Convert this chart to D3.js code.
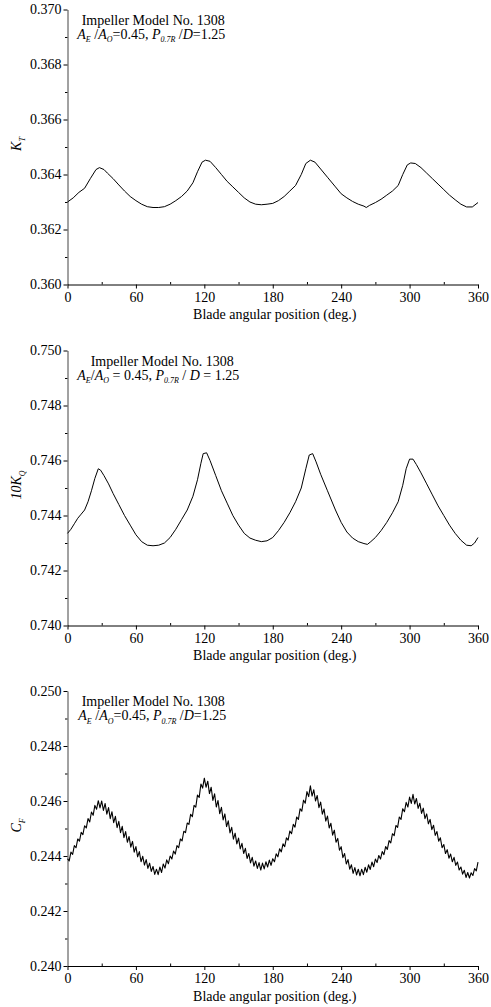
<!DOCTYPE html>
<html>
<head>
<meta charset="utf-8">
<title>Impeller Model No. 1308</title>
<style>
  html, body { margin: 0; padding: 0; background: #fff; }
  svg { display: block; }
  svg text { font-family: "Liberation Serif", "Times New Roman", serif; fill: #000; }
</style>
</head>
<body>
<svg id="chart" width="491" height="1007"></svg>

<script src="https://cdn.jsdelivr.net/npm/d3@7"></script>
<script>

// x axis
const xTicks = [0, 60, 120, 180, 240, 300, 360];
const xMinor = [30, 90, 150, 210, 270, 330];
const xTitle = 'Blade angular position (deg.)';

// K_T
const ktTicks = [0.360, 0.362, 0.364, 0.366, 0.368, 0.370];
const ktMinor = [0.361, 0.363, 0.365, 0.367, 0.369];
const ktAngle = [0, 5, 10, 15, 20, 25, 28, 32, 35, 40, 45, 50, 55, 60, 65, 70, 75, 80, 85, 90,
  95, 100, 105, 110, 114, 118, 121, 125, 130, 135, 140, 145, 150, 155, 160, 165, 170, 175, 180,
  185, 190, 195, 200, 205, 209, 213, 217, 222, 228, 235, 240, 245, 250, 255, 260, 262, 265, 270,
  275, 280, 285, 290, 294, 298, 301, 305, 310, 315, 320, 325, 330, 335, 340, 345, 350, 355, 360];
const ktValue = [0.36300, 0.36315, 0.36335, 0.36350, 0.36385, 0.36418, 0.36425, 0.36418, 0.36405,
  0.36385, 0.36362, 0.36340, 0.36320, 0.36305, 0.36292, 0.36283, 0.36280, 0.36280, 0.36283,
  0.36292, 0.36305, 0.36320, 0.36340, 0.36370, 0.36410, 0.36445, 0.36452, 0.36448, 0.36425,
  0.36400, 0.36375, 0.36355, 0.36335, 0.36315, 0.36300, 0.36292, 0.36290, 0.36292, 0.36295,
  0.36305, 0.36320, 0.36340, 0.36360, 0.36400, 0.36440, 0.36452, 0.36445, 0.36420, 0.36390,
  0.36355, 0.36330, 0.36315, 0.36302, 0.36292, 0.36285, 0.36280, 0.36288, 0.36298, 0.36310,
  0.36325, 0.36340, 0.36360, 0.36400, 0.36435, 0.36442, 0.36440, 0.36425, 0.36405, 0.36385,
  0.36365, 0.36345, 0.36325, 0.36308, 0.36292, 0.36282, 0.36282, 0.36298];

// 10 K_Q
const kqTicks = [0.740, 0.742, 0.744, 0.746, 0.748, 0.750];
const kqMinor = [0.741, 0.743, 0.745, 0.747, 0.749];
const kqAngle = [0, 3, 6, 9, 12, 15, 18, 21, 24, 27, 29, 32, 36, 40, 45, 50, 55, 60, 65, 70, 75,
  80, 85, 90, 95, 100, 105, 110, 114, 117, 119, 122, 125, 130, 135, 140, 145, 150, 155, 160, 165,
  170, 175, 180, 185, 190, 195, 200, 205, 209, 212, 215, 218, 222, 228, 235, 240, 245, 250, 255,
  260, 263, 266, 270, 275, 280, 285, 290, 294, 297, 300, 303, 306, 310, 315, 320, 325, 330, 335,
  340, 345, 350, 354, 357, 360];
const kqValue = [0.74335, 0.74350, 0.74370, 0.74390, 0.74405, 0.74420, 0.74450, 0.74490, 0.74535,
  0.74570, 0.74565, 0.74545, 0.74515, 0.74480, 0.74440, 0.74400, 0.74365, 0.74330, 0.74305,
  0.74292, 0.74290, 0.74292, 0.74300, 0.74320, 0.74350, 0.74385, 0.74420, 0.74470, 0.74530,
  0.74590, 0.74625, 0.74628, 0.74600, 0.74545, 0.74490, 0.74445, 0.74400, 0.74365, 0.74335,
  0.74318, 0.74310, 0.74305, 0.74308, 0.74320, 0.74345, 0.74375, 0.74410, 0.74450, 0.74500,
  0.74570, 0.74620, 0.74625, 0.74595, 0.74550, 0.74490, 0.74420, 0.74375, 0.74340, 0.74318,
  0.74305, 0.74298, 0.74295, 0.74305, 0.74320, 0.74345, 0.74375, 0.74410, 0.74450, 0.74510,
  0.74570, 0.74605, 0.74605, 0.74585, 0.74555, 0.74515, 0.74475, 0.74435, 0.74400, 0.74365,
  0.74335, 0.74310, 0.74292, 0.74290, 0.74300, 0.74320];

// C_F, one reading every 1.5 deg
const cfStep = 1.5;
const cfTicks = [0.240, 0.242, 0.244, 0.246, 0.248, 0.250];
const cfMinor = [0.241, 0.243, 0.245, 0.247, 0.249];
const cfValue = [
  0.24390, 0.24382, 0.24414, 0.24406, 0.24438, 0.24430, 0.24462, 0.24454, 0.24486, 0.24478,
  0.24510, 0.24502, 0.24536, 0.24524, 0.24560, 0.24548, 0.24584, 0.24570, 0.24601, 0.24575,
  0.24600, 0.24566, 0.24591, 0.24552, 0.24576, 0.24536, 0.24561, 0.24521, 0.24544, 0.24503,
  0.24526, 0.24485, 0.24508, 0.24467, 0.24489, 0.24450, 0.24471, 0.24432, 0.24453, 0.24414,
  0.24434, 0.24397, 0.24416, 0.24379, 0.24399, 0.24367, 0.24387, 0.24355, 0.24374, 0.24344,
  0.24362, 0.24333, 0.24352, 0.24332, 0.24360, 0.24340, 0.24371, 0.24356, 0.24386, 0.24372,
  0.24400, 0.24389, 0.24418, 0.24407, 0.24438, 0.24430, 0.24462, 0.24455, 0.24490, 0.24485,
  0.24520, 0.24515, 0.24552, 0.24543, 0.24584, 0.24578, 0.24622, 0.24613, 0.24662, 0.24647,
  0.24683, 0.24650, 0.24672, 0.24627, 0.24650, 0.24602, 0.24626, 0.24578, 0.24602, 0.24554,
  0.24577, 0.24531, 0.24553, 0.24507, 0.24528, 0.24484, 0.24504, 0.24461, 0.24483, 0.24444,
  0.24465, 0.24426, 0.24446, 0.24409, 0.24428, 0.24391, 0.24409, 0.24375, 0.24395, 0.24363,
  0.24382, 0.24355, 0.24376, 0.24349, 0.24374, 0.24353, 0.24379, 0.24360, 0.24385, 0.24366,
  0.24390, 0.24379, 0.24408, 0.24397, 0.24426, 0.24415, 0.24444, 0.24434, 0.24466, 0.24458,
  0.24491, 0.24481, 0.24515, 0.24505, 0.24542, 0.24533, 0.24572, 0.24563, 0.24603, 0.24592,
  0.24634, 0.24616, 0.24655, 0.24618, 0.24641, 0.24600, 0.24620, 0.24576, 0.24596, 0.24552,
  0.24571, 0.24527, 0.24545, 0.24502, 0.24519, 0.24476, 0.24494, 0.24450, 0.24464, 0.24421,
  0.24434, 0.24394, 0.24409, 0.24371, 0.24387, 0.24352, 0.24368, 0.24337, 0.24358, 0.24331,
  0.24352, 0.24328, 0.24352, 0.24332, 0.24359, 0.24341, 0.24368, 0.24351, 0.24378, 0.24361,
  0.24389, 0.24376, 0.24402, 0.24389, 0.24416, 0.24405, 0.24434, 0.24424, 0.24456, 0.24448,
  0.24481, 0.24474, 0.24511, 0.24504, 0.24542, 0.24533, 0.24572, 0.24561, 0.24595, 0.24578,
  0.24614, 0.24591, 0.24624, 0.24589, 0.24609, 0.24573, 0.24592, 0.24555, 0.24574, 0.24536,
  0.24553, 0.24517, 0.24533, 0.24496, 0.24512, 0.24475, 0.24489, 0.24454, 0.24466, 0.24430,
  0.24442, 0.24409, 0.24423, 0.24392, 0.24407, 0.24379, 0.24395, 0.24366, 0.24378, 0.24349,
  0.24360, 0.24334, 0.24348, 0.24322, 0.24340, 0.24320, 0.24339, 0.24329, 0.24354, 0.24346,
  0.24378];
const cfAngle = cfValue.map((v, i) => i * cfStep);

// annotation lines: [text, kind]  kind: n normal, i italic, s italic subscript
const title1 = 'Impeller Model No. 1308';
const ratioTight = [['A', 'i'], ['E', 's'], [' /', 'n'], ['A', 'i'], ['O', 's'], ['=0.45, ', 'n'],
  ['P', 'i'], ['0.7R', 's'], [' /', 'n'], ['D', 'i'], ['=1.25', 'n']];
const ratioSpaced = [['A', 'i'], ['E', 's'], ['/', 'n'], ['A', 'i'], ['O', 's'], [' = 0.45, ', 'n'],
  ['P', 'i'], ['0.7R', 's'], [' / ', 'n'], ['D', 'i'], [' = 1.25', 'n']];

const FONT = '"Liberation Serif", "Times New Roman", serif';
const svg = d3.select('#chart');
const x = d3.scaleLinear().domain([0, 360]).range([67.5, 478]);

const panels = [
  {top: 9.5, bottom: 284.5, ticks: ktTicks, minor: ktMinor, angle: ktAngle, value: ktValue,
   ylab: [['K', 'i'], ['T', 's']], note: ratioTight, noteX: [81.7, 77.3], width: 1},
  {top: 350.5, bottom: 625.5, ticks: kqTicks, minor: kqMinor, angle: kqAngle, value: kqValue,
   ylab: [['10K', 'i'], ['Q', 's']], note: ratioSpaced, noteX: [90.7, 77.3], width: 1},
  {top: 691, bottom: 966, ticks: cfTicks, minor: cfMinor, angle: cfAngle, value: cfValue,
   ylab: [['C', 'i'], ['F', 's']], note: ratioTight, noteX: [81.7, 78.3], width: 1.1}
];

function rich(sel, parts) {
  let low = false;
  parts.forEach(([t, k]) => {
    const ts = sel.append('tspan').text(t);
    if (k !== 'n') ts.attr('font-style', 'italic');
    if (k === 's') {
      ts.attr('font-size', 8).attr('dy', low ? 0 : 3.5);
      low = true;
    } else {
      ts.attr('dy', low ? -3.5 : 0);
      low = false;
    }
  });
}

function serif(a) {
  a.attr('font-family', FONT).attr('font-size', 14);
}

panels.forEach(p => {
  const y = d3.scaleLinear().domain([p.ticks[0], p.ticks[p.ticks.length - 1]])
              .range([p.bottom, p.top]);
  const g = svg.append('g');

  // y axis, minor then major
  g.append('g')
   .attr('transform', `translate(${x(0)},0)`)
   .call(d3.axisLeft(y).tickValues(p.minor).tickSize(2.5).tickFormat(''))
   .call(a => a.select('.domain').remove());

  g.append('g')
   .attr('transform', `translate(${x(0)},0)`)
   .call(d3.axisLeft(y).tickValues(p.ticks).tickSize(4).tickSizeOuter(0).tickPadding(2)
           .tickFormat(d3.format('.3f')))
   .call(serif)
   .call(a => a.select('.domain').attr('stroke', '#444'));

  // x axis, minor ticks point inward
  g.append('g')
   .attr('transform', `translate(0,${p.bottom})`)
   .call(d3.axisBottom(x).tickValues(xMinor).tickSize(-2.5).tickFormat(''))
   .call(a => a.select('.domain').remove());

  g.append('g')
   .attr('transform', `translate(0,${p.bottom})`)
   .call(d3.axisBottom(x).tickValues(xTicks).tickSize(4).tickSizeOuter(0).tickPadding(3.5))
   .call(serif);

  g.append('text')
   .attr('x', (x(0) + x(360)) / 2 + 2)
   .attr('y', p.bottom + 34.5)
   .attr('text-anchor', 'middle')
   .call(serif)
   .text(xTitle);

  // y title
  const yt = g.append('text')
   .attr('transform', `translate(21,${(p.top + p.bottom) / 2 - 3}) rotate(-90)`)
   .attr('text-anchor', 'middle')
   .call(serif);
  rich(yt, p.ylab);

  // annotation
  g.append('text')
   .attr('x', p.noteX[0]).attr('y', p.top + 15)
   .call(serif)
   .text(title1);
  const n2 = g.append('text')
   .attr('x', p.noteX[1]).attr('y', p.top + 29)
   .call(serif);
  rich(n2, p.note);

  // curve
  const pts = p.angle.map((a, i) => [a, p.value[i]]);
  g.append('path')
   .datum(pts)
   .attr('fill', 'none')
   .attr('stroke', '#000')
   .attr('stroke-width', p.width)
   .attr('stroke-linejoin', 'round')
   .attr('d', d3.line().x(d => x(d[0])).y(d => y(d[1])));
});

</script>
</body>
</html>
